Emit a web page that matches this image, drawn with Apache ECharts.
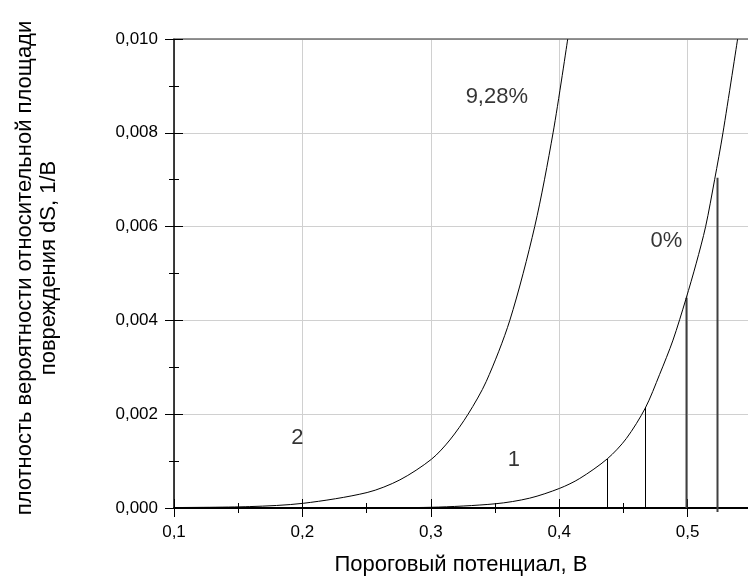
<!DOCTYPE html>
<html>
<head>
<meta charset="utf-8">
<script src="https://cdn.jsdelivr.net/npm/echarts@6/dist/echarts.min.js"></script>
<style>html,body{margin:0;padding:0;background:#fff}#c{width:748px;height:579px}</style>
</head>
<body>
<div id="c"></div>
<script>
// Curve 2 (9,28%)
const curve2X = [0.100, 0.159, 0.2006, 0.2504, 0.2759, 0.3005, 0.3148, 0.329, 0.3432, 0.3615, 0.3809, 0.3952, 0.4066];
const curve2Y = [0.00001, 0.00003, 0.00010, 0.00033, 0.00060, 0.00104, 0.00145, 0.0020, 0.0027, 0.0040, 0.0060, 0.0080, 0.0100];
// Curve 1 (0%)
const curve1X = [0.100, 0.200, 0.250, 0.300, 0.3503, 0.377, 0.4004, 0.416, 0.4375, 0.4522, 0.4670, 0.4782, 0.4886, 0.4986, 0.5067, 0.5140, 0.5210, 0.5275, 0.5389];
const curve1Y = [0.0, 0.000002, 0.000005, 0.000015, 0.00009, 0.00021, 0.00042, 0.00063, 0.00105, 0.00148, 0.00213, 0.00285, 0.00358, 0.00445, 0.00522, 0.0060, 0.00700, 0.0080, 0.0100];
// vertical drop lines
const dropX = [0.4375, 0.4669, 0.4986, 0.5231];
const dropY = [0.00105, 0.00215, 0.00448, 0.00704];
// annotations
const noteText = ['9,28%', '0%', '1', '2'];
const noteX = [0.3514, 0.4834, 0.3646, 0.1961];
const noteY = [0.00877, 0.00570, 0.00102, 0.00150];
const xTicks = [0.1, 0.2, 0.3, 0.4, 0.5];
const yTicks = [0.000, 0.002, 0.004, 0.006, 0.008, 0.010];

const FONT = '"Liberation Sans", Arial, sans-serif';
const xMin = 0.1, xMax = 0.547, yMin = 0, yMax = 0.010;

const chart = echarts.init(document.getElementById('c'), null, {renderer: 'canvas'});
const baseX = {type: 'value', min: xMin, max: xMax, interval: 0.1, position: 'bottom'};
const baseY = {type: 'value', min: yMin, max: yMax, interval: 0.002, position: 'left'};
const option = {
  animation: false,
  grid: {left: 174, right: 0, top: 39, bottom: 71, containLabel: false, outerBoundsMode: 'none'},
  xAxis: [
    Object.assign({}, baseX, {
      name: 'Пороговый потенциал, В',
      nameLocation: 'middle', nameGap: 46,
      nameTextStyle: {fontFamily: FONT, fontSize: 22, color: '#000'},
      axisLine: {show: true, lineStyle: {color: '#000', width: 2}},
      axisTick: {show: true, inside: false, length: 9, lineStyle: {color: '#000', width: 1}},
      minorTick: {show: true, splitNumber: 2, length: 5, lineStyle: {color: '#000', width: 1}},
      axisLabel: {fontFamily: FONT, fontSize: 17, color: '#000', margin: 16, showMaxLabel: false,
        formatter: v => xTicks.some(t => Math.abs(t - v) < 1e-9) ? v.toFixed(1).replace('.', ',') : ''},
      splitLine: {show: true, lineStyle: {color: '#d0d0d0', width: 1}}
    }),
    Object.assign({}, baseX, {
      axisLine: {show: false},
      axisTick: {show: true, inside: true, length: 9, lineStyle: {color: '#000', width: 1}},
      minorTick: {show: true, splitNumber: 2, length: 5, lineStyle: {color: '#000', width: 1}},
      axisLabel: {show: false}, splitLine: {show: false}
    }),
    Object.assign({}, baseX, {
      position: 'top',
      axisLine: {show: true, lineStyle: {color: '#707070', width: 1.5}},
      axisTick: {show: false}, axisLabel: {show: false}, splitLine: {show: false}
    })
  ],
  yAxis: [
    Object.assign({}, baseY, {
      name: 'плотность вероятности относительной площади\nповреждения dS, 1/В',
      nameLocation: 'middle', nameGap: 113, nameRotate: 90,
      nameTextStyle: {fontFamily: FONT, fontSize: 22, color: '#000', lineHeight: 24, align: 'center',
        padding: [0, 0, 0, 11]},
      axisLine: {show: true, lineStyle: {color: '#000', width: 1.5}},
      axisTick: {show: true, inside: false, length: 9, lineStyle: {color: '#000', width: 1}},
      minorTick: {show: true, splitNumber: 2, length: 5, lineStyle: {color: '#000', width: 1}},
      axisLabel: {fontFamily: FONT, fontSize: 17, color: '#000', margin: 16,
        formatter: v => v.toFixed(3).replace('.', ',')},
      splitLine: {show: true, lineStyle: {color: '#d0d0d0', width: 1}}
    }),
    Object.assign({}, baseY, {
      axisLine: {show: false},
      axisTick: {show: true, inside: true, length: 9, lineStyle: {color: '#000', width: 1}},
      minorTick: {show: true, splitNumber: 2, length: 5, lineStyle: {color: '#000', width: 1}},
      axisLabel: {show: false}, splitLine: {show: false}
    })
  ],
  series: [
    {
      type: 'line', xAxisIndex: 0, yAxisIndex: 0, symbol: 'none', smooth: 0.3,
      lineStyle: {color: '#000', width: 1},
      data: curve2X.map((x, i) => [x, curve2Y[i]]), clip: true, z: 3
    },
    {
      type: 'line', xAxisIndex: 0, yAxisIndex: 0, symbol: 'none', smooth: 0.3,
      lineStyle: {color: '#000', width: 1},
      data: curve1X.map((x, i) => [x, curve1Y[i]]), clip: true, z: 3
    },
    {
      type: 'custom', xAxisIndex: 0, yAxisIndex: 0, z: 3,
      data: dropX.map((x, i) => [x, dropY[i]]),
      renderItem: (params, api) => {
        const top = api.coord([api.value(0), api.value(1)]);
        const bot = api.coord([api.value(0), 0]);
        const heavy = params.dataIndex >= 2;
        return {
          type: 'line',
          shape: {x1: Math.round(top[0]) + 0.5, y1: top[1], x2: Math.round(bot[0]) + 0.5, y2: bot[1] + (params.dataIndex === 3 ? 4 : 0)},
          style: {stroke: heavy ? '#404040' : '#000', lineWidth: heavy ? 2 : 1}
        };
      }
    },
    {
      type: 'scatter', xAxisIndex: 0, yAxisIndex: 0, symbolSize: 0, z: 4,
      data: noteX.map((x, i) => ({value: [x, noteY[i]], name: noteText[i]})),
      label: {show: true, position: 'inside', formatter: p => p.name,
        fontFamily: FONT, fontSize: 22, color: '#000'},
      silent: true
    }
  ]
};
chart.setOption(option);
</script>
</body>
</html>
